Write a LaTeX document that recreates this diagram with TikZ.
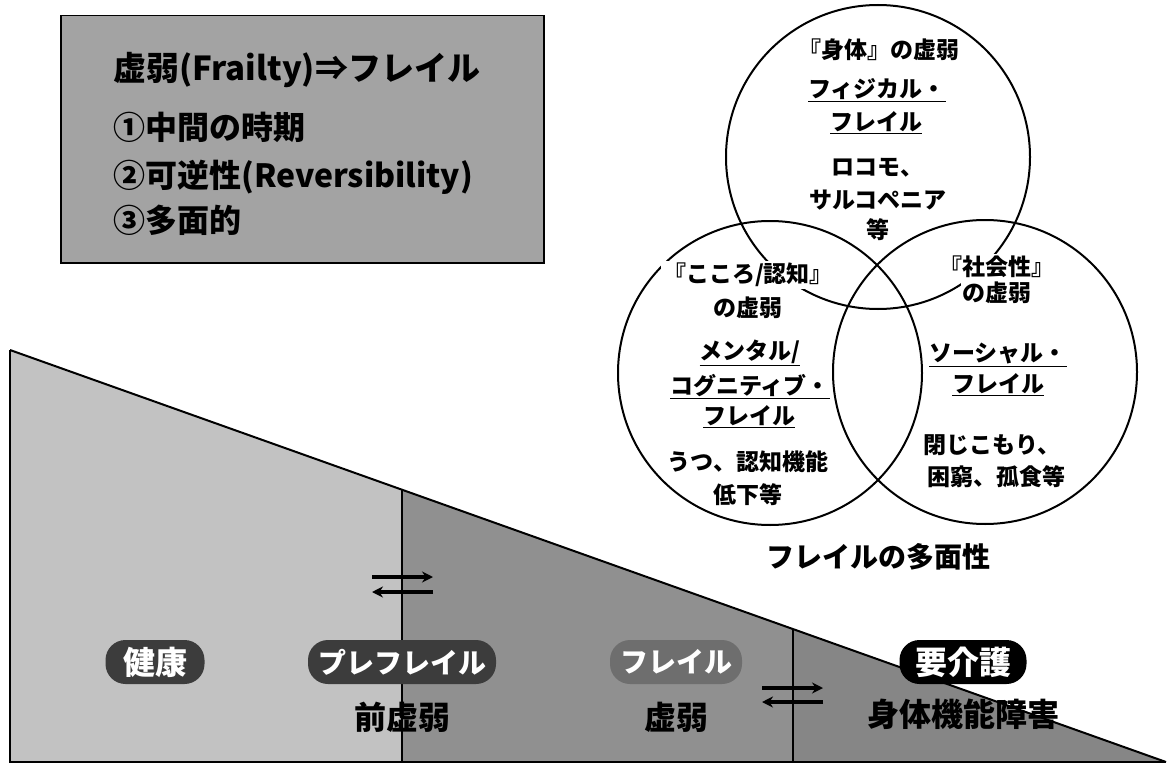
\documentclass[tikz,border=0pt]{standalone}
\usepackage{fontspec}
\setmainfont{Noto Sans CJK JP}
\usetikzlibrary{arrows.meta}
\definecolor{boxgray}{HTML}{A3A3A3}
\definecolor{regA}{HTML}{C2C2C2}
\definecolor{regB}{HTML}{909090}
\definecolor{regC}{HTML}{868686}
\definecolor{pilldark}{HTML}{3C3C3C}
\definecolor{pillmid}{HTML}{6E6E6E}
\newcommand{\setfs}[1]{\fontsize{#1}{#1}\selectfont}
\tikzset{
  vcirc/.style={circle, draw=black, line width=2pt, minimum size=304pt, inner sep=0pt},
  vtxt/.style={font=\bfseries\setfs{23}, inner sep=1pt},
  vmask/.style={vtxt, fill=white, inner sep=2pt},
  boxtxt/.style={font=\bfseries\setfs{32}, anchor=west, inner sep=0pt},
  pill/.style={rounded corners=20pt, minimum height=44pt, text=white, inner xsep=10pt, inner ysep=2pt},
  stagelbl/.style={font=\bfseries\setfs{32}, inner sep=0pt},
  arr/.style={line width=4pt, -{Stealth[length=11pt,width=11pt]}},
  edge/.style={draw=black, line width=2pt},
  divider/.style={draw=black, line width=1.3pt}
}
\begin{document}
\begin{tikzpicture}[x=1pt,y=-1pt]
\useasboundingbox (0,0) rectangle (1168,765);
\fill[white] (0,0) rectangle (1168,765);

% ---- staircase triangle ----
\coordinate (TL) at (10,350);
\coordinate (BL) at (10,762);
\coordinate (BR) at (1166,762);
\coordinate (D1t) at (402,489.7);
\coordinate (D1b) at (402,762);
\coordinate (D2t) at (793,629.1);
\coordinate (D2b) at (793,762);
\fill[regA] (TL) -- (D1t) -- (D1b) -- (BL) -- cycle;
\fill[regB] (D1t) -- (D2t) -- (D2b) -- (D1b) -- cycle;
\fill[regC] (D2t) -- (BR) -- (D2b) -- cycle;
\draw[edge] (TL) -- (BR);
\draw[edge] (TL) -- (BL) -- (BR);
\draw[divider] (D1t) -- (D1b);
\draw[divider] (D2t) -- (D2b);

% ---- reversible arrows ----
\coordinate (a1a) at (372,577);
\coordinate (a1b) at (433,577);
\coordinate (a1c) at (433,592);
\coordinate (a1d) at (372,592);
\draw[arr] (a1a) -- (a1b);
\draw[arr] (a1c) -- (a1d);
\coordinate (a2a) at (762,688);
\coordinate (a2b) at (823,688);
\coordinate (a2c) at (823,702);
\coordinate (a2d) at (762,702);
\draw[arr] (a2a) -- (a2b);
\draw[arr] (a2c) -- (a2d);

% ---- stage pills ----
\node[pill, fill=pilldark, minimum width=99pt, font=\bfseries\setfs{32}] (kenko) at (155,662) {健康};
\node[pill, fill=pilldark, minimum width=185pt, font=\bfseries\setfs{28}] (pre) at (402,662) {プレフレイル};
\node[pill, fill=pillmid, minimum width=132pt, font=\bfseries\setfs{28}] (frail) at (676,662) {フレイル};
\node[pill, fill=black, minimum width=127pt, font=\bfseries\setfs{32}] (care) at (963,662) {要介護};

\node[stagelbl] (preL) at (402,717) {前虚弱};
\node[stagelbl] (frailL) at (676,717) {虚弱};
\node[stagelbl] (careL) at (963,714) {身体機能障害};

% ---- definition box ----
\node[draw=black, line width=1.5pt, fill=boxgray, minimum width=483pt, minimum height=247pt, anchor=north west, inner sep=0pt] (defbox) at (60,15) {};
\node[boxtxt, font=\bfseries\setfs{33}] (t0) at (113,70) {虚弱(Frailty)⇒フレイル};
\node[boxtxt] (t1) at (113,127) {①中間の時期};
\node[boxtxt] (t2) at (113,177) {②可逆性(Reversibility)};
\node[boxtxt] (t3) at (113,220) {③多面的};

% ---- Venn diagram ----
\node[vcirc] (cTop) at (878,157) {};
\node[vcirc] (cLeft) at (770,373) {};
\node[vcirc] (cRight) at (985,372) {};

\node[vtxt] (p1) at (879,50) {『身体』の虚弱};
\node[vtxt] (p2) at (877,90) {\underline{フィジカル・}};
\node[vtxt] (p3) at (876,123) {\underline{フレイル}};
\node[vtxt] (p4) at (877,168) {ロコモ、};
\node[vtxt] (p5) at (878,200) {サルコペニア};
\node[vtxt] (p6) at (878,230) {等};

\node[vmask] (m1) at (748,275) {『こころ/認知』};
\node[vtxt] (m2) at (748,308) {の虚弱};
\node[vtxt] (m3) at (750,353) {\underline{メンタル/}};
\node[vtxt] (m4) at (750,387) {\underline{コグニティブ・}};
\node[vtxt] (m5) at (749,417) {\underline{フレイル}};
\node[vtxt] (m6) at (748,462) {うつ、認知機能};
\node[vtxt] (m7) at (748,495) {低下等};

\node[vmask] (s1) at (997,267) {『社会性』};
\node[vmask] (s2) at (997,293) {の虚弱};
\node[vtxt] (s3) at (998,355) {\underline{ソーシャル・}};
\node[vtxt] (s4) at (998,385) {\underline{フレイル}};
\node[vtxt] (s5) at (992,445) {閉じこもり、};
\node[vtxt] (s6) at (996,477) {困窮、孤食等};

\node[font=\bfseries\setfs{28}, inner sep=0pt] (vtitle) at (878,557) {フレイルの多面性};
\end{tikzpicture}
\end{document}
